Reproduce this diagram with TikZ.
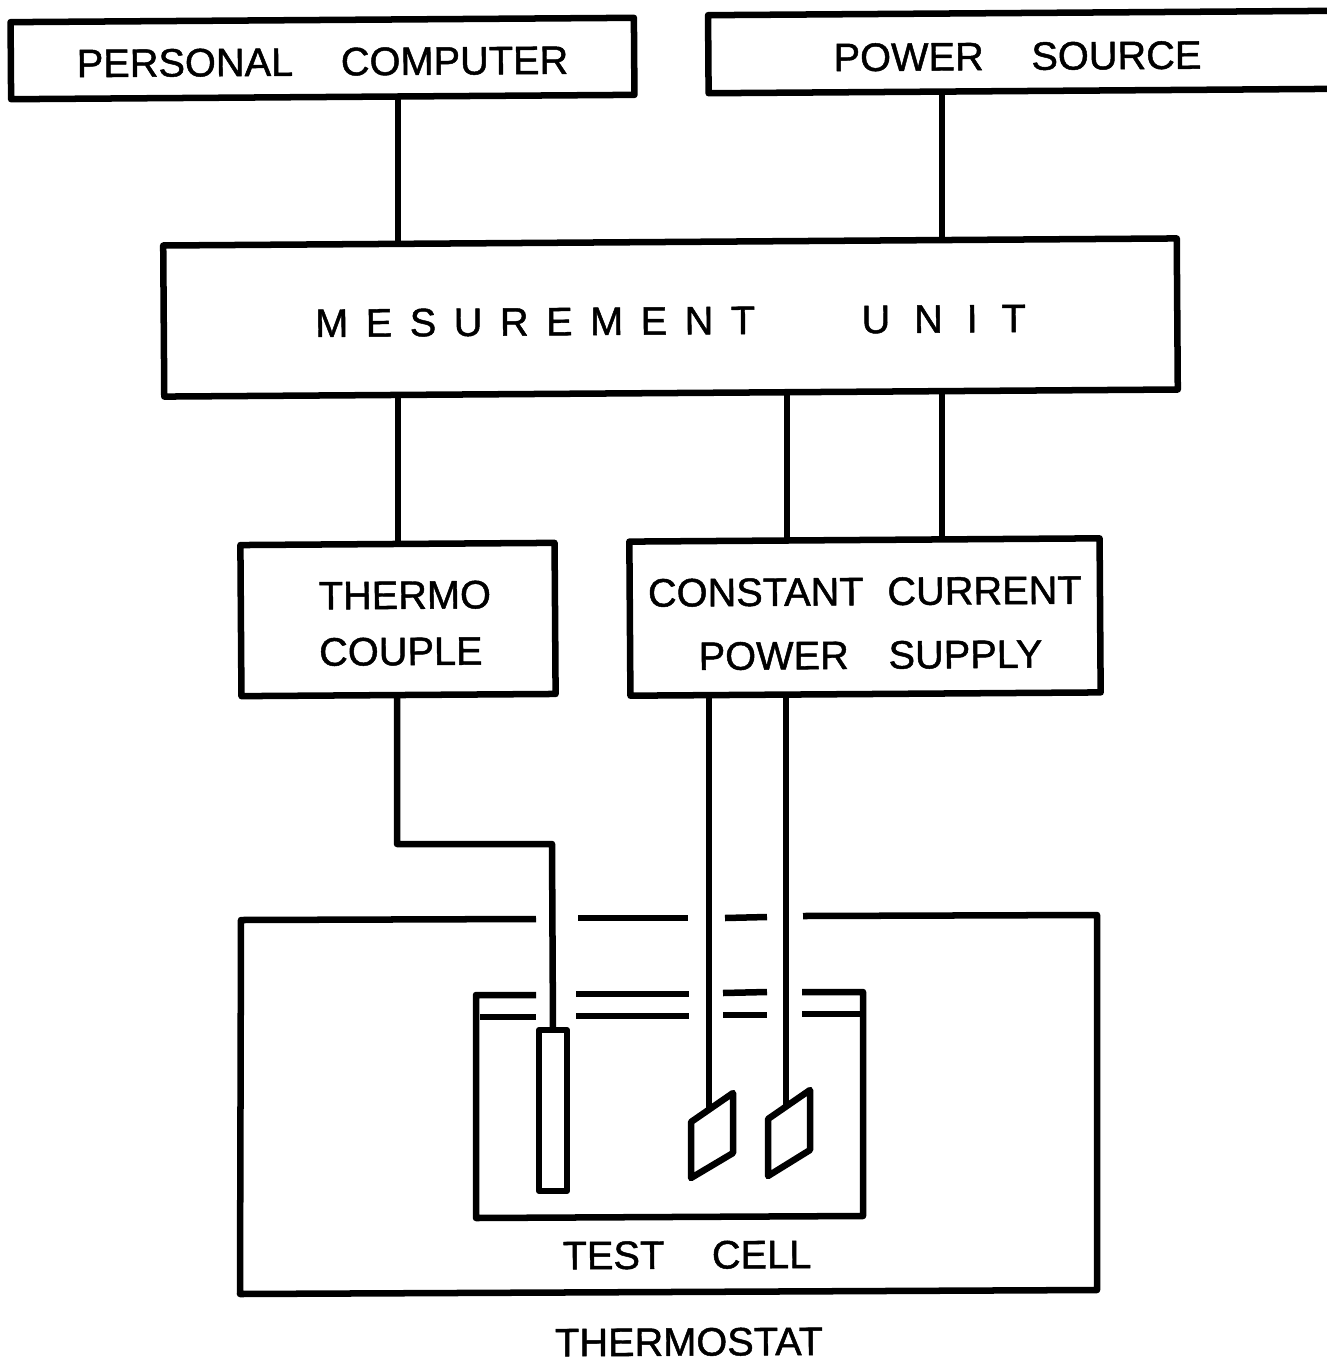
\documentclass[tikz,border=0pt]{standalone}
\usepackage{fontspec}
\setmainfont[FakeBold=1.2]{Liberation Sans}
\tikzset{
	wire/.style={line width=1.85pt},
	unitbox/.style={draw, line width=1.85pt, rectangle, inner sep=0pt, outer sep=0pt, rotate=.4, font=\fontsize{11.3}{16}\selectfont},
	boxtext/.style={inner sep=0pt, rotate=.3, font=\fontsize{11.3}{16}\selectfont}
}
\begin{document}
\begin{tikzpicture}[x=.01cm,y=-.01cm,line join=round]
	\useasboundingbox (0,0) rectangle (1326,1360);
	% boxes
	\node[unitbox, minimum width=6.23cm, minimum height=.77cm] (pc) at (322.5,58.5) {\rule{0pt}{9.8pt}PERSONAL\hspace{1.2em}COMPUTER};
	\node[unitbox, minimum width=6.31cm, minimum height=.78cm] (ps) at (1024,52) {\rule{0pt}{10.3pt}\hspace*{-3.7pt}POWER\hspace{1.2em}SOURCE};
	\node[unitbox, minimum width=10.13cm, minimum height=1.51cm] (mu) at (670.5,317.5) {\rule{0pt}{9.8pt}M\hspace{.44em}E\hspace{.44em}S\hspace{.44em}U\hspace{.44em}R\hspace{.44em}E\hspace{.44em}M\hspace{.44em}E\hspace{.44em}N\hspace{.44em}T\hspace{2.68em}U\hspace{.6em}N\hspace{.6em}I\hspace{.6em}T};
	\node[unitbox, minimum width=3.14cm, minimum height=1.51cm, align=left] (tc) at (398,619.5) {\rule{0pt}{10.1pt}\hspace*{4pt}THERMO\\\hspace*{4pt}COUPLE};
	\node[unitbox, minimum width=4.7cm, minimum height=1.54cm, align=center] (cc) at (865,617) {\rule{0pt}{11.5pt}CONSTANT\hspace{.6em}CURRENT\\[2.1pt]\hspace*{3pt}POWER\hspace{1em}SUPPLY};
	\node[boxtext] (cell) at (687,1255) {TEST\hspace{1.2em}CELL};
	\node[boxtext] (therm) at (689,1342) {THERMOSTAT};
	\node[draw, line width=1.7pt, inner sep=0pt, outer sep=0pt, minimum width=.28cm, minimum height=1.61cm] (probe) at (553,1110.5) {};
	\coordinate (plateA) at (709,1110);
	\coordinate (plateB) at (786,1105);
	% connections
	\draw[wire] (398,0 |- pc.south) -- (398,0 |- mu.north);
	\draw[wire] (942,0 |- ps.south) -- (942,0 |- mu.north);
	\draw[wire] (398,0 |- mu.south) -- (398,0 |- tc.north);
	\draw[wire] (787,0 |- mu.south) -- (787,0 |- cc.north);
	\draw[wire] (942,0 |- mu.south) -- (942,0 |- cc.north);
	\draw[wire] (397,0 |- tc.south) -- (397,844) -- (552,844) -- (probe.north);
	\draw[wire] (709,0 |- cc.south) -- (plateA);
	\draw[wire] (786,0 |- cc.south) -- (plateB);
	% thermostat
	\draw[wire] (536,919) -- (241,920) -- (240,1294) -- (1097,1290) -- (1097,915) -- (803,916);
	\draw[wire] (578,918) -- (688,918);
	\draw[wire] (725,918) -- (767,917);
	% test cell
	\draw[wire] (536,995) -- (476,995) -- (476,1218) -- (863,1216) -- (863,992) -- (802,992);
	\draw[wire] (576,994) -- (689,994);
	\draw[wire] (723,993) -- (767,992);
	\draw[wire] (480,1017) -- (536,1017);
	\draw[wire] (576,1016) -- (689,1016);
	\draw[wire] (723,1015) -- (767,1015);
	\draw[wire] (802,1014) -- (861,1014);
	% electrodes
	\draw[wire] (691,1122) -- (733,1093) -- (733,1153) -- (691,1178) -- cycle;
	\draw[wire] (768,1119) -- (810,1090) -- (810,1150) -- (768,1176) -- cycle;
\end{tikzpicture}
\end{document}
